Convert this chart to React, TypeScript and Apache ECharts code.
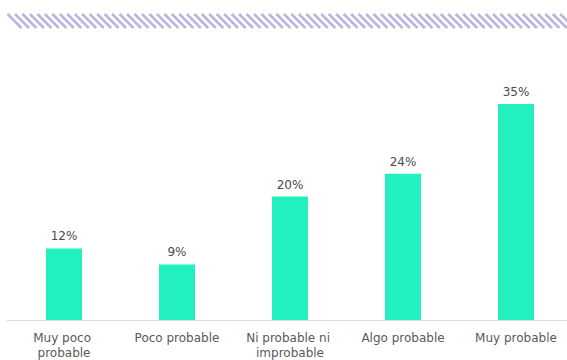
import React, { useEffect, useRef } from "react";
import * as echarts from "echarts";

const categories = ["Muy poco probable", "Poco probable", "Ni probable ni improbable", "Algo probable", "Muy probable"];
const values = [11.6, 9.0, 20.0, 23.7, 35.0];

const FONT = "DejaVu Sans";

export default function App() {
  const ref = useRef<HTMLDivElement>(null);
  useEffect(() => {
    if (!ref.current) return;
    const chart = echarts.init(ref.current, null, { renderer: "svg" });
    const stripes: any[] = [];
    for (let i = 0; i < 76; i++) {
      const x = 7.5 + i * 7.47;
      stripes.push({
        type: "line",
        shape: { x1: x, y1: 14, x2: x + 14, y2: 28 },
        style: { stroke: "#b9b6df", lineWidth: 2.6 },
        silent: true,
      });
    }
    chart.setOption({
      animation: false,
      grid: { left: 7.5, width: 565, top: 104, bottom: 39, containLabel: false },
      xAxis: {
        type: "category",
        data: categories,
        axisLine: { lineStyle: { color: "#d9d9d9", width: 1 } },
        axisTick: { show: false },
        axisLabel: {
          interval: 0,
          color: "#595959",
          fontFamily: FONT,
          fontSize: 12,
          margin: 10,
          width: 98,
          overflow: "break",
          lineHeight: 15,
        },
      },
      yAxis: { type: "value", min: 0, max: 35, show: false, splitLine: { show: false } },
      series: [
        {
          type: "bar",
          data: values,
          barWidth: 36,
          itemStyle: { color: "#22f0bf" },
          label: {
            show: true,
            position: "top",
            distance: 6,
            color: "#4a4a4a",
            fontFamily: FONT,
            fontSize: 12,
            formatter: (p: any) => Math.round(p.value) + "%",
          },
        },
      ],
      graphic: stripes,
    });
    return () => chart.dispose();
  }, []);
  return (
    <div style={{ width: 567, height: 360, position: "absolute", left: 0, top: 0, overflow: "hidden" }}>
      <div ref={ref} style={{ width: 585, height: 360 }} />
    </div>
  );
}
